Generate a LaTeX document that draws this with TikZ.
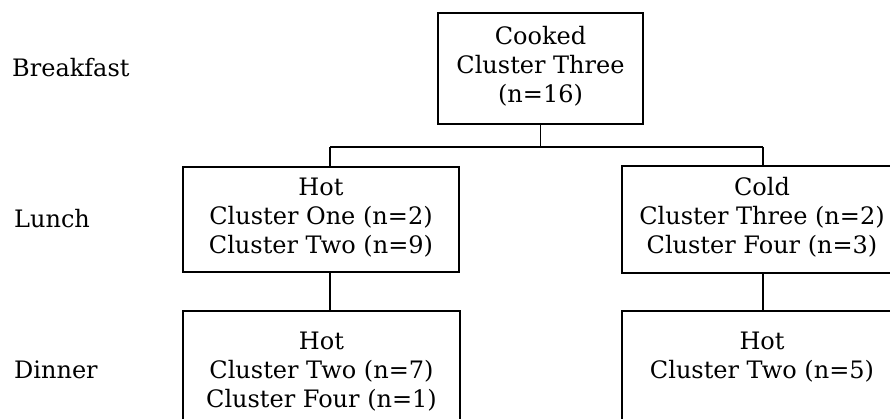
\documentclass[tikz,border=0pt]{standalone}
\usepackage{fontspec}
\setmainfont{DejaVu Serif}
\begin{document}
\begin{tikzpicture}[x=1pt,y=-1pt,
  every node/.style={font=\fontsize{24}{29}\selectfont},
  box/.style={draw,line width=2pt,inner sep=0pt,align=center},
  txt/.style={align=center,inner sep=0pt,anchor=north},
  meal/.style={anchor=base west,inner sep=0pt},
  link/.style={line width=1.8pt}]
\useasboundingbox (0,0) rectangle (890,419);
\clip (0,0) rectangle (890,419);

% row labels
\node[meal] (bk) at (12,77) {Breakfast};
\node[meal] (lu) at (14,228) {Lunch};
\node[meal] (di) at (14,378) {Dinner};

% boxes
\node[box,minimum width=205pt,minimum height=111pt] (top) at (540.5,68.5) {};
\node[box,minimum width=276pt,minimum height=105pt] (l1) at (321,219.5) {};
\node[box,minimum width=280pt,minimum height=107pt] (l2) at (762,219.5) {};
\node[box,minimum width=277pt,minimum height=130pt,anchor=north] (d1) at (321.5,310) {};
\node[box,minimum width=280pt,minimum height=130pt,anchor=north] (d2) at (762,310) {};

% box texts
\node[txt] (ttop) at ([yshift=-14pt]top.north) {Cooked\\Cluster Three\\(n=16)};
\node[txt] (tl1) at ([yshift=-12pt]l1.north) {Hot\\Cluster One (n=2)\\Cluster Two (n=9)};
\node[txt] (tl2) at ([yshift=-12pt]l2.north) {Cold\\Cluster Three (n=2)\\Cluster Four (n=3)};
\node[txt] (td1) at ([yshift=-22pt]d1.north) {Hot\\Cluster Two (n=7)\\Cluster Four (n=1)};
\node[txt] (td2) at ([yshift=-22pt]d2.north) {Hot\\Cluster Two (n=5)};

% connectors
\coordinate (busL) at (330,147);
\coordinate (busR) at (763,147);
\draw[link] (busL) -- (busR);
\draw[link] (top.south) -- (top.south |- busL);
\draw[link] (busL) -- (busL |- l1.north);
\draw[link] (busR) -- (busR |- l2.north);
\draw[link] (busL |- l1.south) -- (busL |- d1.north);
\draw[link] (busR |- l2.south) -- (busR |- d2.north);
\end{tikzpicture}
\end{document}
